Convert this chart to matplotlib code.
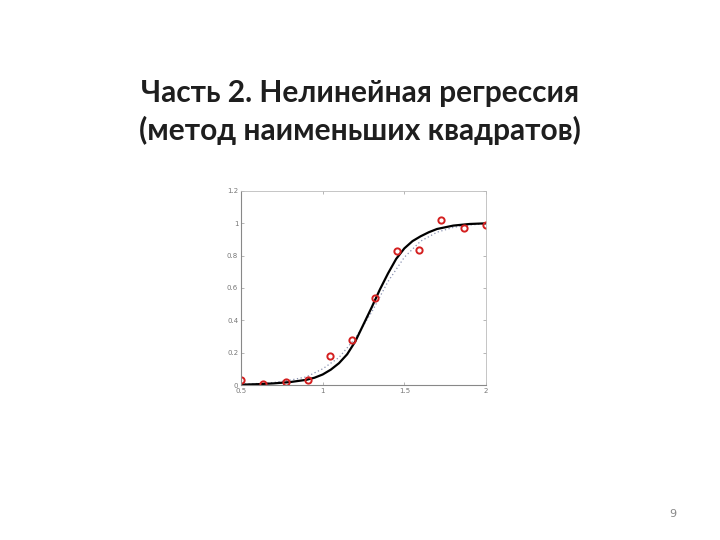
import matplotlib
matplotlib.use("Agg")
import matplotlib.pyplot as plt

# Measured data points
x_data = [0.5, 0.636, 0.773, 0.909, 1.045, 1.182, 1.318, 1.455, 1.591, 1.727, 1.864, 2.0]
y_data = [0.033, 0.004, 0.016, 0.033, 0.178, 0.276, 0.54, 0.83, 0.832, 1.02, 0.97, 0.99]

# Fitted curve (solid)
x_fit = [0.5, 0.6, 0.7, 0.8, 0.9, 0.95, 1.0, 1.05, 1.1, 1.15, 1.2, 1.25, 1.3, 1.35, 1.4,
         1.45, 1.5, 1.55, 1.6, 1.65, 1.7, 1.8, 1.9, 2.0]
y_fit = [0.002, 0.005, 0.01, 0.018, 0.032, 0.045, 0.065, 0.095, 0.135, 0.19, 0.27, 0.375,
         0.48, 0.59, 0.69, 0.78, 0.845, 0.89, 0.92, 0.945, 0.965, 0.986, 0.996, 1.0]

# Secondary (dotted) curve
x_fit2 = [0.5, 0.6, 0.7, 0.8, 0.9, 1.0, 1.1, 1.2, 1.3, 1.4, 1.5, 1.6, 1.7, 1.8, 1.9, 2.0]
y_fit2 = [0.005, 0.009, 0.015, 0.03, 0.05, 0.1, 0.17, 0.29, 0.45, 0.64, 0.79, 0.89,
          0.945, 0.975, 0.99, 0.997]

x_ticks = [0.5, 1, 1.5, 2]
x_ticklabels = ["0.5", "1", "1.5", "2"]
y_ticks = [0, 0.2, 0.4, 0.6, 0.8, 1.0, 1.2]
y_ticklabels = ["0", "0.2", "0.4", "0.6", "0.8", "1", "1.2"]

title_lines = ["Часть 2. Нелинейная регрессия", "(метод наименьших квадратов)"]
page_number = "9"

fig = plt.figure(figsize=(7.2, 5.4), dpi=100)
fig.patch.set_facecolor("white")

for i, line in enumerate(title_lines):
    fig.text(0.5, 1 - (93 + 37 * i) / 540, line, ha="center", va="center",
             fontsize=21.5, fontweight="bold", family=["Lato", "DejaVu Sans"], color="#1e1e1e")
fig.text(673 / 720, 1 - 514 / 540, page_number, ha="center", va="center",
         fontsize=8, color="#888888")

ax = fig.add_axes([241 / 720, 1 - 385 / 540, 245 / 720, 194 / 540])
ax.plot(x_fit2, y_fit2, linestyle=(0, (1, 2)), color="#8890b0", linewidth=0.9)
ax.plot(x_fit, y_fit, color="black", linewidth=1.6)
ax.plot(x_data, y_data, linestyle="none", marker="o", markersize=4.5,
        markerfacecolor="none", markeredgecolor="#d42020", markeredgewidth=1.4)

ax.set_xlim(0.5, 2)
ax.set_ylim(0, 1.2)
ax.set_xticks(x_ticks)
ax.set_xticklabels(x_ticklabels)
ax.set_yticks(y_ticks)
ax.set_yticklabels(y_ticklabels)
ax.tick_params(direction="in", length=2, width=0.5, labelsize=5, colors="#999999",
               labelcolor="#777777", pad=2, top=True, right=True)
for side in ["left", "bottom"]:
    ax.spines[side].set_color("#888888")
    ax.spines[side].set_linewidth(0.8)
for side in ["top", "right"]:
    ax.spines[side].set_color("#bbbbbb")
    ax.spines[side].set_linewidth(0.6)

fig.savefig("out.png", dpi=100, facecolor="white")
